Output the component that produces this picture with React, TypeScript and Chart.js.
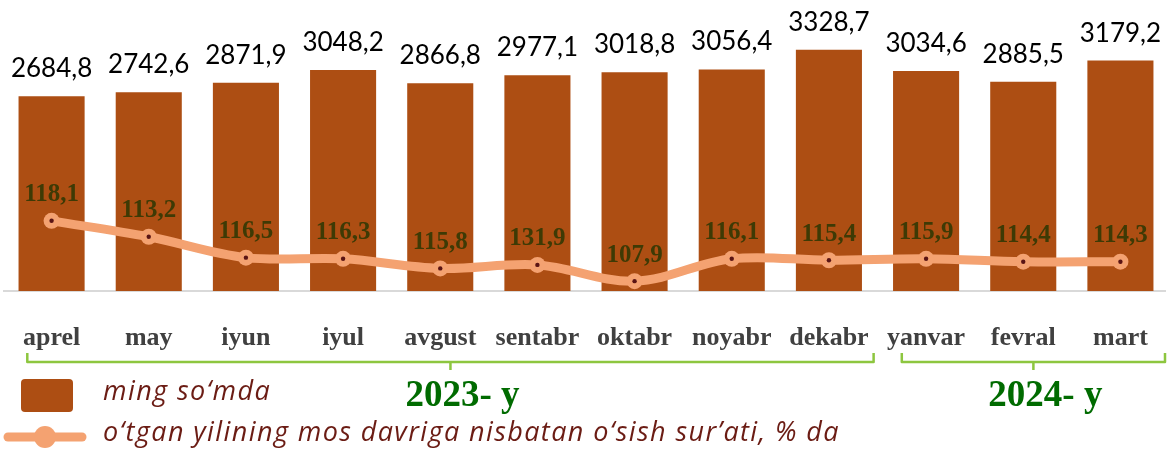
import React, { useEffect, useRef } from "react";
import { Chart, registerables } from "chart.js";

Chart.register(...registerables);

const months = ["aprel", "may", "iyun", "iyul", "avgust", "sentabr", "oktabr", "noyabr", "dekabr", "yanvar", "fevral", "mart"];
const wages = [2684.8, 2742.6, 2871.9, 3048.2, 2866.8, 2977.1, 3018.8, 3056.4, 3328.7, 3034.6, 2885.5, 3179.2];
const growthLabels = [118.1, 113.2, 116.5, 116.3, 115.8, 131.9, 107.9, 116.1, 115.4, 115.9, 114.4, 114.3];
// height of the growth line as drawn in the picture (secondary, hidden scale)
const growthLevel = [24.2, 18.7, 11.5, 11.1, 7.8, 9.0, 3.4, 11.1, 10.6, 11.1, 10.1, 10.1];
const yearLabels = ["2023- y", "2024- y"];
const yearFrom = [0, 9];
const yearTo = [8, 11];
const legendBar = "ming so\u2018mda";
const legendLine = "o\u2018tgan yilining mos davriga nisbatan o\u2018sish sur\u2019ati, % da";

const BAR = "#AD4E13";
const LINE = "#F4A271";
const fmt = (v: number) => v.toFixed(1).replace(".", ",");

const baseline = {
  id: "baseline",
  beforeDatasetsDraw(chart: any) {
    const { ctx, chartArea } = chart;
    ctx.save();
    ctx.strokeStyle = "#D9D9D9";
    ctx.lineWidth = 2;
    ctx.beginPath();
    ctx.moveTo(chartArea.left, chartArea.bottom);
    ctx.lineTo(Math.min(chartArea.right, chart.width - 3), chartArea.bottom);
    ctx.stroke();
    ctx.restore();
  },
};

const overlay = {
  id: "overlay",
  afterDatasetsDraw(chart: any) {
    const { ctx } = chart;
    const xs = chart.scales.x;
    const barMeta = chart.getDatasetMeta(0);
    const lineMeta = chart.getDatasetMeta(1);
    ctx.save();
    lineMeta.data.forEach((p: any) => {
      ctx.beginPath();
      ctx.fillStyle = "#5A1414";
      ctx.arc(p.x, p.y, 2.2, 0, Math.PI * 2);
      ctx.fill();
    });
    ctx.font = "26px Lato";
    ctx.fillStyle = "#000";
    ctx.textAlign = "center";
    ctx.textBaseline = "alphabetic";
    barMeta.data.forEach((b: any, i: number) => {
      ctx.fillText(fmt(wages[i]), b.x, b.y - 19);
    });
    ctx.font = "bold 25px 'Liberation Serif'";
    ctx.fillStyle = "#3E3A05";
    ctx.textBaseline = "middle";
    lineMeta.data.forEach((p: any, i: number) => {
      ctx.fillText(fmt(growthLabels[i]), p.x, p.y - 26);
    });
    ctx.font = "bold 26px 'Liberation Serif'";
    ctx.fillStyle = "#404040";
    ctx.textBaseline = "alphabetic";
    months.forEach((m, i) => {
      ctx.fillText(m, xs.getPixelForValue(i), 345);
    });
    const w = xs.getPixelForValue(1) - xs.getPixelForValue(0);
    ctx.strokeStyle = "#8DC63F";
    ctx.lineWidth = 2.5;
    ctx.lineJoin = "round";
    yearLabels.forEach((lab, k) => {
      const l = xs.getPixelForValue(yearFrom[k]) - 0.25 * w;
      const r = Math.min(xs.getPixelForValue(yearTo[k]) + 0.46 * w, chart.width - 4);
      const mid = (l + r) / 2;
      const y = 362;
      ctx.beginPath();
      ctx.moveTo(l, y - 9);
      ctx.lineTo(l, y);
      ctx.lineTo(r, y);
      ctx.lineTo(r, y - 9);
      ctx.moveTo(mid, y);
      ctx.lineTo(mid, y + 8);
      ctx.stroke();
      ctx.font = "bold 37px 'Liberation Serif'";
      ctx.fillStyle = "#006B00";
      ctx.textAlign = "center";
      ctx.fillText(lab, mid + 12, 406);
    });
    ctx.fillStyle = BAR;
    ctx.beginPath();
    (ctx as any).roundRect(21, 379, 52, 33, 4);
    ctx.fill();
    ctx.strokeStyle = LINE;
    ctx.lineWidth = 9;
    ctx.lineCap = "round";
    ctx.beginPath();
    ctx.moveTo(8, 437);
    ctx.lineTo(82, 437);
    ctx.stroke();
    ctx.fillStyle = LINE;
    ctx.beginPath();
    ctx.arc(45, 437, 11, 0, Math.PI * 2);
    ctx.fill();
    ctx.font = "italic 27px 'Open Sans'";
    (ctx as any).letterSpacing = "1.4px";
    ctx.fillStyle = "#6B1C14";
    ctx.textAlign = "left";
    ctx.fillText(legendBar, 103, 400);
    ctx.fillText(legendLine, 103, 441);
    ctx.restore();
  },
};

export default function App() {
  const ref = useRef<HTMLCanvasElement>(null);
  useEffect(() => {
    document.body.style.margin = "0";
    const chart = new Chart(ref.current!, {
      type: "bar",
      data: {
        labels: months,
        datasets: [
          {
            type: "bar",
            data: wages,
            backgroundColor: BAR,
            categoryPercentage: 1,
            barPercentage: 0.68,
            yAxisID: "y",
            order: 2,
          },
          {
            type: "line",
            data: growthLevel,
            borderColor: LINE,
            backgroundColor: LINE,
            borderWidth: 9,
            pointRadius: 8,
            pointBorderWidth: 0,
            tension: 0.35,
            clip: false,
            yAxisID: "y1",
            order: 1,
          } as any,
        ],
      },
      options: {
        responsive: false,
        animation: false,
        layout: { autoPadding: false, padding: { left: 3, right: -4, top: 1, bottom: 160 } },
        plugins: { legend: { display: false }, tooltip: { enabled: false } },
        scales: {
          x: { display: false },
          y: { display: false, min: 0, max: 4000 },
          y1: { display: false, min: 0, max: 100 },
        },
      },
      plugins: [baseline, overlay],
    });
    return () => chart.destroy();
  }, []);
  return (
    <div style={{ width: 1169, height: 451 }}>
      <canvas ref={ref} width={1169} height={451} />
    </div>
  );
}
